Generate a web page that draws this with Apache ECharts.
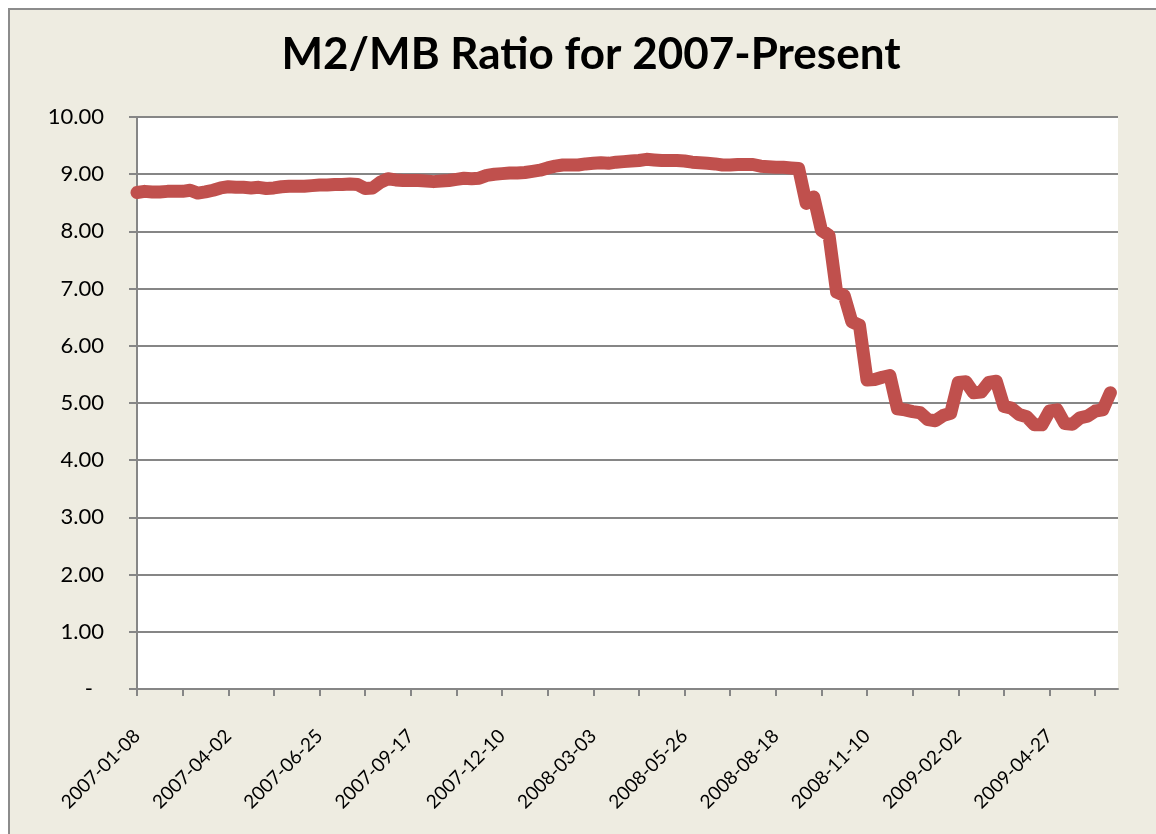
<!DOCTYPE html>
<html><head><meta charset="utf-8">
<script src="https://cdn.jsdelivr.net/npm/echarts@6/dist/echarts.min.js"></script>
<style>
html,body{margin:0;padding:0;background:#fff;}
#wrap{position:relative;width:1156px;height:834px;overflow:hidden;}
#frame{position:absolute;left:8px;top:8px;width:1200px;height:900px;background:#EEECE1;border:2px solid #8C8C8C;}
#chart{position:absolute;left:0;top:0;width:1156px;height:834px;}
</style></head><body>
<div id="wrap"><div id="frame"></div><div id="chart"></div></div>
<script>
const chartTitle = 'M2/MB Ratio for 2007-Present';

const weeks = [
'2007-01-08','2007-01-15','2007-01-22','2007-01-29','2007-02-05','2007-02-12','2007-02-19','2007-02-26',
'2007-03-05','2007-03-12','2007-03-19','2007-03-26','2007-04-02','2007-04-09','2007-04-16','2007-04-23',
'2007-04-30','2007-05-07','2007-05-14','2007-05-21','2007-05-28','2007-06-04','2007-06-11','2007-06-18',
'2007-06-25','2007-07-02','2007-07-09','2007-07-16','2007-07-23','2007-07-30','2007-08-06','2007-08-13',
'2007-08-20','2007-08-27','2007-09-03','2007-09-10','2007-09-17','2007-09-24','2007-10-01','2007-10-08',
'2007-10-15','2007-10-22','2007-10-29','2007-11-05','2007-11-12','2007-11-19','2007-11-26','2007-12-03',
'2007-12-10','2007-12-17','2007-12-24','2007-12-31','2008-01-07','2008-01-14','2008-01-21','2008-01-28',
'2008-02-04','2008-02-11','2008-02-18','2008-02-25','2008-03-03','2008-03-10','2008-03-17','2008-03-24',
'2008-03-31','2008-04-07','2008-04-14','2008-04-21','2008-04-28','2008-05-05','2008-05-12','2008-05-19',
'2008-05-26','2008-06-02','2008-06-09','2008-06-16','2008-06-23','2008-06-30','2008-07-07','2008-07-14',
'2008-07-21','2008-07-28','2008-08-04','2008-08-11','2008-08-18','2008-08-25','2008-09-01','2008-09-08',
'2008-09-15','2008-09-22','2008-09-29','2008-10-06','2008-10-13','2008-10-20','2008-10-27','2008-11-03',
'2008-11-10','2008-11-17','2008-11-24','2008-12-01','2008-12-08','2008-12-15','2008-12-22','2008-12-29',
'2009-01-05','2009-01-12','2009-01-19','2009-01-26','2009-02-02','2009-02-09','2009-02-16','2009-02-23',
'2009-03-02','2009-03-09','2009-03-16','2009-03-23','2009-03-30','2009-04-06','2009-04-13','2009-04-20',
'2009-04-27','2009-05-04','2009-05-11','2009-05-18','2009-05-25','2009-06-01','2009-06-08','2009-06-15',
'2009-06-22','2009-06-29'
];

const ratio = [
8.68,8.70,8.69,8.69,8.70,8.70,8.70,8.72,
8.67,8.69,8.72,8.76,8.78,8.77,8.77,8.76,
8.77,8.75,8.76,8.78,8.79,8.79,8.79,8.80,
8.81,8.81,8.82,8.82,8.83,8.82,8.75,8.76,
8.86,8.92,8.90,8.89,8.89,8.89,8.88,8.87,
8.88,8.89,8.91,8.93,8.92,8.93,8.98,9.00,
9.01,9.02,9.02,9.03,9.05,9.07,9.11,9.14,
9.16,9.16,9.16,9.18,9.19,9.20,9.19,9.21,
9.22,9.23,9.24,9.26,9.25,9.24,9.24,9.24,
9.23,9.21,9.20,9.19,9.18,9.16,9.16,9.17,
9.17,9.17,9.14,9.13,9.12,9.12,9.11,9.10,
8.49,8.60,8.02,7.93,6.94,6.88,6.42,6.36,
5.40,5.41,5.45,5.48,4.90,4.88,4.85,4.83,
4.71,4.69,4.78,4.82,5.36,5.37,5.18,5.19,
5.36,5.38,4.94,4.91,4.80,4.76,4.62,4.62,
4.86,4.88,4.64,4.63,4.74,4.77,4.86,4.88,
5.18,null
];

const yMin = 0, yMax = 10, yStep = 1;

const FONT = 'Lato';
const chart = echarts.init(document.getElementById('chart'), null, {renderer: 'canvas'});
chart.setOption({
  backgroundColor: 'transparent',
  animation: false,
  title: {
    text: chartTitle,
    left: 586, top: 28, textAlign: 'center',
    textStyle: {fontFamily: FONT, fontWeight: 'bold', fontSize: 44, color: '#000'}
  },
  grid: {
    left: 137, top: 117, right: 38, bottom: 145,
    show: true, backgroundColor: '#FFFFFF', borderWidth: 0
  },
  xAxis: {
    type: 'category',
    data: weeks,
    boundaryGap: false,
    axisLine: {lineStyle: {color: '#868686', width: 2}},
    axisTick: {show: true, interval: 5, length: 7, lineStyle: {color: '#868686', width: 2}},
    axisLabel: {
      interval: 11, rotate: 45, margin: 44,
      fontFamily: FONT, fontSize: 19, color: '#000'
    },
    splitLine: {show: false}
  },
  yAxis: {
    type: 'value',
    min: yMin, max: yMax, interval: yStep,
    axisLine: {show: true, lineStyle: {color: '#868686', width: 2}},
    axisTick: {show: true, length: 8, lineStyle: {color: '#868686', width: 2}},
    splitLine: {show: true, lineStyle: {color: '#868686', width: 2}},
    axisLabel: {
      margin: 33, fontFamily: FONT, fontSize: 22, color: '#000',
      formatter: function (v) { return v === 0 ? '{z|-}' : v.toFixed(2); },
      rich: {z: {fontFamily: FONT, fontSize: 22, color: '#000', padding: [0, 11, 0, 0]}}
    }
  },
  series: [{
    type: 'line',
    data: ratio,
    symbol: 'none',
    clip: true,
    lineStyle: {color: '#C0504D', width: 13, cap: 'round', join: 'round'}
  }]
});
</script>
</body></html>
